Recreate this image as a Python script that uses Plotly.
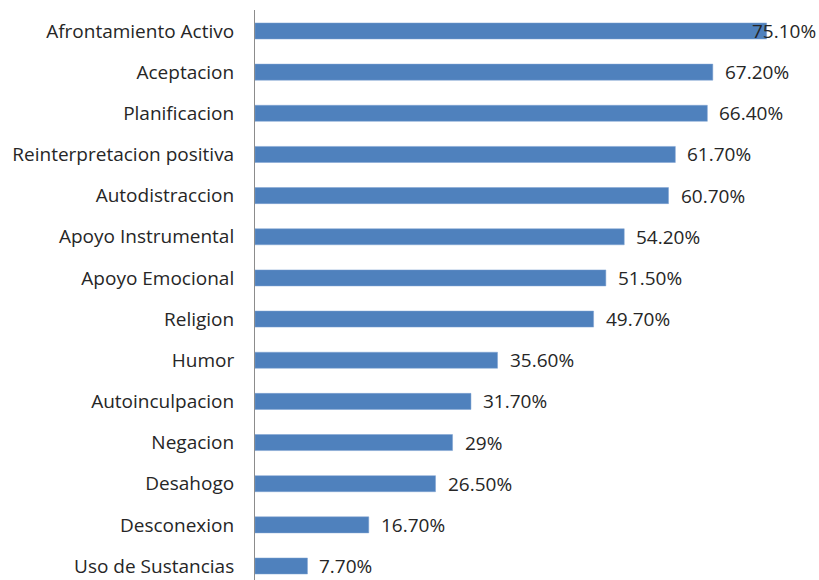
import plotly.graph_objects as go

categories = ["Afrontamiento Activo", "Aceptacion", "Planificacion", "Reinterpretacion positiva",
              "Autodistraccion", "Apoyo Instrumental", "Apoyo Emocional", "Religion", "Humor",
              "Autoinculpacion", "Negacion", "Desahogo", "Desconexion", "Uso de Sustancias"]
values = [75.1, 67.2, 66.4, 61.7, 60.7, 54.2, 51.5, 49.7, 35.6, 31.7, 29.0, 26.5, 16.7, 7.7]
labels = ["75.10%", "67.20%", "66.40%", "61.70%", "60.70%", "54.20%", "51.50%", "49.70%",
          "35.60%", "31.70%", "29%", "26.50%", "16.70%", "7.70%"]

FONT = "Open Sans"
fig = go.Figure()
fig.add_trace(go.Bar(
    x=values, y=categories, orientation="h",
    marker=dict(color="#4F81BD", line=dict(color="#7FA3D3", width=0.5)),
    width=0.39, hoverinfo="skip",
))

for i, (c, v, t) in enumerate(zip(categories, values, labels)):
    shift = 10 if i > 0 else -17
    fig.add_annotation(x=v, y=c, text=t, showarrow=False, xanchor="left", yanchor="middle",
                       xshift=shift, font=dict(family=FONT, size=19, color="#262626"))

fig.update_layout(
    width=819, height=580,
    margin=dict(l=255, r=19, t=10, b=0),
    paper_bgcolor="white", plot_bgcolor="white",
    showlegend=False,
    xaxis=dict(range=[0, 80], visible=False),
    yaxis=dict(type="category", categoryorder="array", categoryarray=categories,
               range=[13.34, -0.51], showline=True, linecolor="#8C8C8C", linewidth=1,
               showgrid=False, zeroline=False, ticks="", ticklabelstandoff=16,
               tickfont=dict(family=FONT, size=19, color="#262626")),
)
fig.write_html("out.html")
